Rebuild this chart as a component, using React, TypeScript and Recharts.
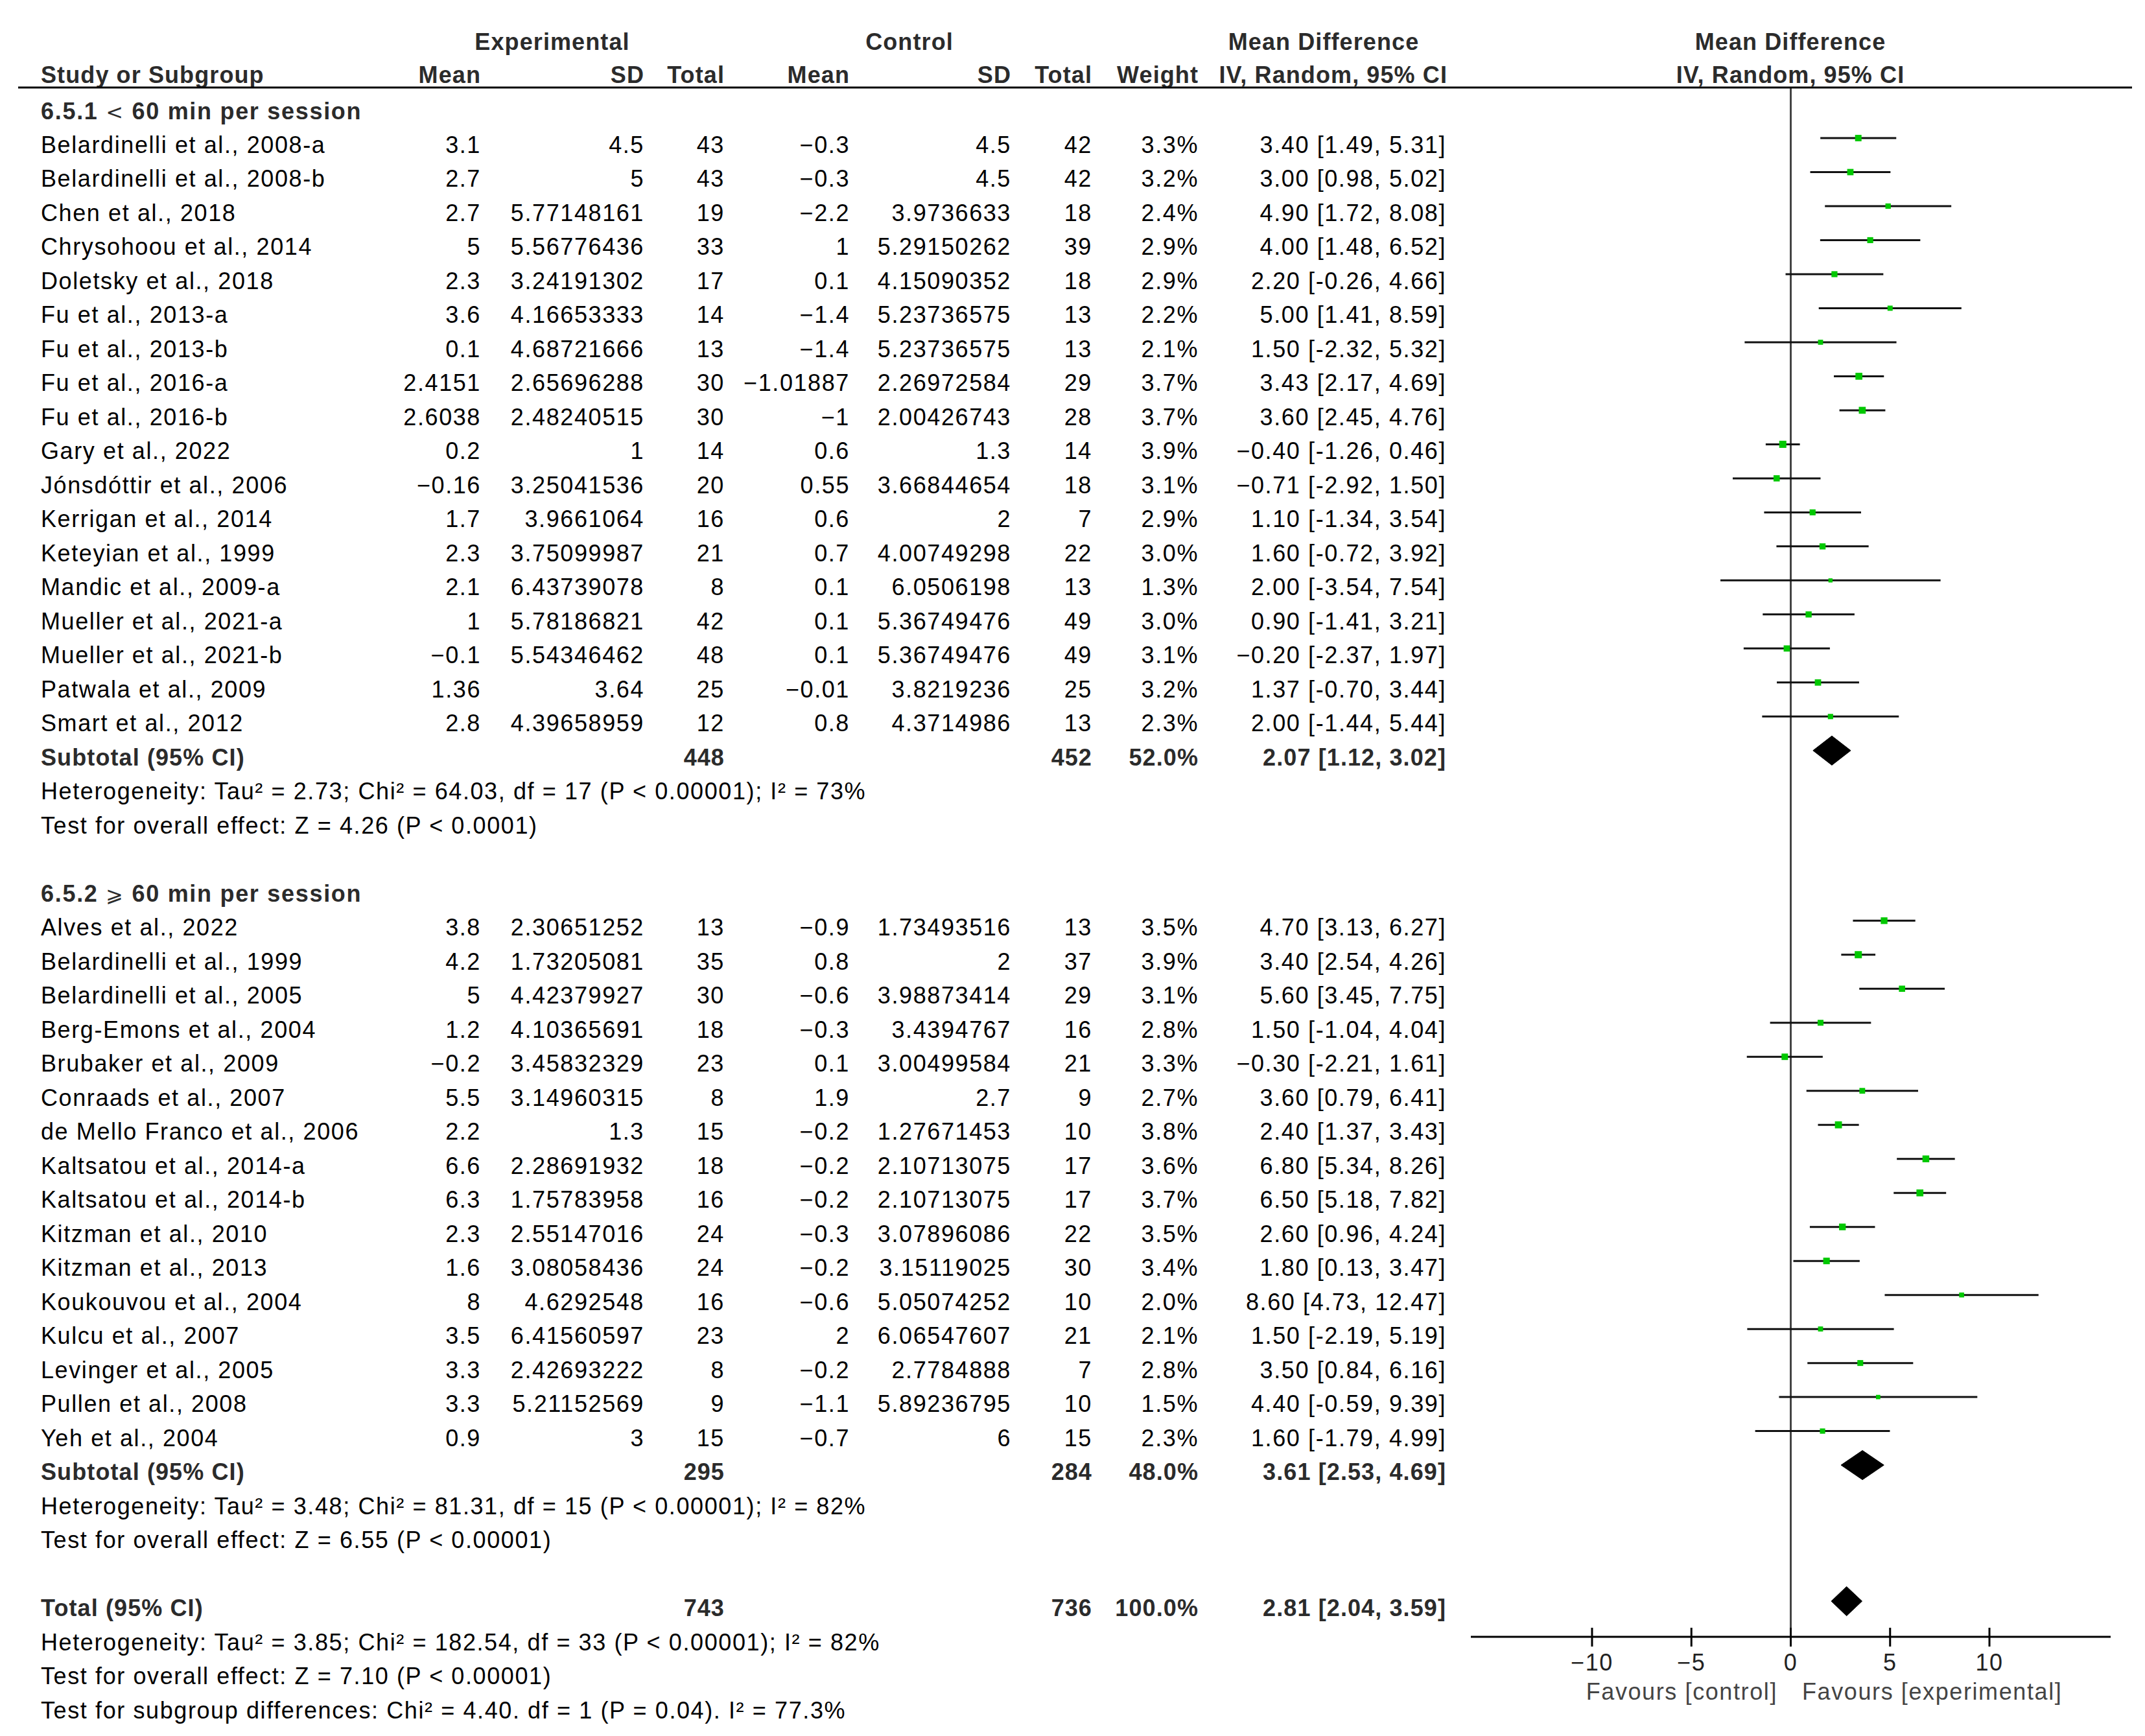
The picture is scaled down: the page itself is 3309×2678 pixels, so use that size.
import React from 'react';
import { ComposedChart, Scatter, XAxis, YAxis, ErrorBar, ReferenceLine } from 'recharts';

// ---------------- data ----------------
const names1 = [
  'Belardinelli et al., 2008-a', 'Belardinelli et al., 2008-b', 'Chen et al., 2018', 'Chrysohoou et al., 2014',
  'Doletsky et al., 2018', 'Fu et al., 2013-a', 'Fu et al., 2013-b', 'Fu et al., 2016-a', 'Fu et al., 2016-b',
  'Gary et al., 2022', 'Jónsdóttir et al., 2006', 'Kerrigan et al., 2014', 'Keteyian et al., 1999',
  'Mandic et al., 2009-a', 'Mueller et al., 2021-a', 'Mueller et al., 2021-b', 'Patwala et al., 2009', 'Smart et al., 2012',
];
const expMean1 = [3.1, 2.7, 2.7, 5, 2.3, 3.6, 0.1, 2.4151, 2.6038, 0.2, -0.16, 1.7, 2.3, 2.1, 1, -0.1, 1.36, 2.8];
const expSD1 = [4.5, 5, 5.77148161, 5.56776436, 3.24191302, 4.16653333, 4.68721666, 2.65696288, 2.48240515, 1, 3.25041536, 3.9661064, 3.75099987, 6.43739078, 5.78186821, 5.54346462, 3.64, 4.39658959];
const expN1 = [43, 43, 19, 33, 17, 14, 13, 30, 30, 14, 20, 16, 21, 8, 42, 48, 25, 12];
const ctrlMean1 = [-0.3, -0.3, -2.2, 1, 0.1, -1.4, -1.4, -1.01887, -1, 0.6, 0.55, 0.6, 0.7, 0.1, 0.1, 0.1, -0.01, 0.8];
const ctrlSD1 = [4.5, 4.5, 3.9736633, 5.29150262, 4.15090352, 5.23736575, 5.23736575, 2.26972584, 2.00426743, 1.3, 3.66844654, 2, 4.00749298, 6.0506198, 5.36749476, 5.36749476, 3.8219236, 4.3714986];
const ctrlN1 = [42, 42, 18, 39, 18, 13, 13, 29, 28, 14, 18, 7, 22, 13, 49, 49, 25, 13];
const weight1 = [3.3, 3.2, 2.4, 2.9, 2.9, 2.2, 2.1, 3.7, 3.7, 3.9, 3.1, 2.9, 3.0, 1.3, 3.0, 3.1, 3.2, 2.3];
const md1 = [3.40, 3.00, 4.90, 4.00, 2.20, 5.00, 1.50, 3.43, 3.60, -0.40, -0.71, 1.10, 1.60, 2.00, 0.90, -0.20, 1.37, 2.00];
const lo1 = [1.49, 0.98, 1.72, 1.48, -0.26, 1.41, -2.32, 2.17, 2.45, -1.26, -2.92, -1.34, -0.72, -3.54, -1.41, -2.37, -0.70, -1.44];
const hi1 = [5.31, 5.02, 8.08, 6.52, 4.66, 8.59, 5.32, 4.69, 4.76, 0.46, 1.50, 3.54, 3.92, 7.54, 3.21, 1.97, 3.44, 5.44];

const names2 = [
  'Alves et al., 2022', 'Belardinelli et al., 1999', 'Belardinelli et al., 2005', 'Berg-Emons et al., 2004',
  'Brubaker et al., 2009', 'Conraads et al., 2007', 'de Mello Franco et al., 2006', 'Kaltsatou et al., 2014-a',
  'Kaltsatou et al., 2014-b', 'Kitzman et al., 2010', 'Kitzman et al., 2013', 'Koukouvou et al., 2004',
  'Kulcu et al., 2007', 'Levinger et al., 2005', 'Pullen et al., 2008', 'Yeh et al., 2004',
];
const expMean2 = [3.8, 4.2, 5, 1.2, -0.2, 5.5, 2.2, 6.6, 6.3, 2.3, 1.6, 8, 3.5, 3.3, 3.3, 0.9];
const expSD2 = [2.30651252, 1.73205081, 4.42379927, 4.10365691, 3.45832329, 3.14960315, 1.3, 2.28691932, 1.75783958, 2.55147016, 3.08058436, 4.6292548, 6.41560597, 2.42693222, 5.21152569, 3];
const expN2 = [13, 35, 30, 18, 23, 8, 15, 18, 16, 24, 24, 16, 23, 8, 9, 15];
const ctrlMean2 = [-0.9, 0.8, -0.6, -0.3, 0.1, 1.9, -0.2, -0.2, -0.2, -0.3, -0.2, -0.6, 2, -0.2, -1.1, -0.7];
const ctrlSD2 = [1.73493516, 2, 3.98873414, 3.4394767, 3.00499584, 2.7, 1.27671453, 2.10713075, 2.10713075, 3.07896086, 3.15119025, 5.05074252, 6.06547607, 2.7784888, 5.89236795, 6];
const ctrlN2 = [13, 37, 29, 16, 21, 9, 10, 17, 17, 22, 30, 10, 21, 7, 10, 15];
const weight2 = [3.5, 3.9, 3.1, 2.8, 3.3, 2.7, 3.8, 3.6, 3.7, 3.5, 3.4, 2.0, 2.1, 2.8, 1.5, 2.3];
const md2 = [4.70, 3.40, 5.60, 1.50, -0.30, 3.60, 2.40, 6.80, 6.50, 2.60, 1.80, 8.60, 1.50, 3.50, 4.40, 1.60];
const lo2 = [3.13, 2.54, 3.45, -1.04, -2.21, 0.79, 1.37, 5.34, 5.18, 0.96, 0.13, 4.73, -2.19, 0.84, -0.59, -1.79];
const hi2 = [6.27, 4.26, 7.75, 4.04, 1.61, 6.41, 3.43, 8.26, 7.82, 4.24, 3.47, 12.47, 5.19, 6.16, 9.39, 4.99];

const subLabels = ['Subtotal (95% CI)', 'Subtotal (95% CI)', 'Total (95% CI)'];
const subEst = [2.07, 3.61, 2.81];
const subLo = [1.12, 2.53, 2.04];
const subHi = [3.02, 4.69, 3.59];
const subExpN = [448, 295, 743];
const subCtrlN = [452, 284, 736];
const subWeight = [52.0, 48.0, 100.0];

const groupTitles = ['6.5.1 ', '6.5.2 '];
const groupSymbols = ['<', '⩾'];
const groupRest = [' 60 min per session', ' 60 min per session'];

const hetTexts = [
  'Heterogeneity: Tau² = 2.73; Chi² = 64.03, df = 17 (P < 0.00001); I² = 73%',
  'Heterogeneity: Tau² = 3.48; Chi² = 81.31, df = 15 (P < 0.00001); I² = 82%',
  'Heterogeneity: Tau² = 3.85; Chi² = 182.54, df = 33 (P < 0.00001); I² = 82%',
];
const testTexts = [
  'Test for overall effect: Z = 4.26 (P < 0.0001)',
  'Test for overall effect: Z = 6.55 (P < 0.00001)',
  'Test for overall effect: Z = 7.10 (P < 0.00001)',
];
const subgroupDiffText = 'Test for subgroup differences: Chi² = 4.40. df = 1 (P = 0.04). I² = 77.3%';

const xTicks = [-10, -5, 0, 5, 10];
const favoursLeft = 'Favours [control]';
const favoursRight = 'Favours [experimental]';

// ---------------- layout ----------------
const W = 3309;
const H = 2678;
const FONT = '"Liberation Sans", Arial, Helvetica, sans-serif';
const FS = 36;
const LS_NORMAL = 1.6;
const LS_BOLD = 1.1;
const ROW0 = 160.5;
const ROWH = 52.49;
const BASE_OFF = 23;
const PLOT_TOP = 135;
const PLOT_BOTTOM = 2525;
const PLOT_LEFT = 2269;
const PLOT_RIGHT = 3256;
const Y_DOMAIN: [number, number] = [(PLOT_TOP - ROW0) / ROWH, (PLOT_BOTTOM - ROW0) / ROWH];
const X_DOMAIN: [number, number] = [-16.1, 16.1];
const baseY = (i: number) => ROW0 + ROWH * i + BASE_OFF;

const COL = {
  name: 63, expMean: 742, expSD: 994, expN: 1118, ctrlMean: 1311, ctrlSD: 1560, ctrlN: 1685, weight: 1849, ci: 2231,
};

// row indices
const G_HEADER = [0, 23];
const G_START = [1, 24];
const SUB_ROW = [19, 40, 44];
const HET_ROW = [20, 41, 45];
const TEST_ROW = [21, 42, 46];
const DIFF_ROW = 47;
const DIAMOND_HALF = 0.43;

const num = (v: number) => (v < 0 ? '−' + String(-v) : String(v));
const est = (v: number) => (v < 0 ? '−' + (-v).toFixed(2) : v.toFixed(2));
const ci = (m: number, l: number, h: number) => `${est(m)} [${l.toFixed(2)}, ${h.toFixed(2)}]`;

const groups = [
  { names: names1, em: expMean1, es: expSD1, en: expN1, cm: ctrlMean1, cs: ctrlSD1, cn: ctrlN1, w: weight1, md: md1, lo: lo1, hi: hi1 },
  { names: names2, em: expMean2, es: expSD2, en: expN2, cm: ctrlMean2, cs: ctrlSD2, cn: ctrlN2, w: weight2, md: md2, lo: lo2, hi: hi2 },
];

const studyPoints = groups.flatMap((g, gi) =>
  g.md.map((m, k) => ({ x: m, y: G_START[gi] + k, err: [m - g.lo[k], g.hi[k] - m], w: g.w[k] }))
);

const diamondData = subEst.map((e, k) => [
  { x: subLo[k], y: SUB_ROW[k] },
  { x: e, y: SUB_ROW[k] - DIAMOND_HALF },
  { x: subHi[k], y: SUB_ROW[k] },
  { x: e, y: SUB_ROW[k] + DIAMOND_HALF },
  { x: subLo[k], y: SUB_ROW[k] },
]);

// ---------------- components ----------------
const SquareShape = (props: any) => {
  const { cx, cy, payload } = props;
  if (cx == null || cy == null) return <g />;
  const s = 4 + 1.8 * payload.w;
  return <rect x={cx - s / 2} y={cy - s / 2} width={s} height={s} fill="#00c800" />;
};
const NoShape = () => <g />;

const AxisTick = (props: any) => {
  const { x, y, payload } = props;
  const v = payload.value as number;
  return (
    <g>
      <line x1={x} x2={x} y1={y - 14} y2={y + 15} stroke="#000" strokeWidth={3} />
      <text x={x} y={y + 52} textAnchor="middle" fontFamily={FONT} fontSize={FS} fill="#222" letterSpacing={LS_NORMAL}>
        {v < 0 ? '−' + String(-v) : String(v)}
      </text>
    </g>
  );
};

const T = ({ x, y, anchor = 'end', bold = false, fill, children }: any) => (
  <text
    x={x}
    y={y}
    textAnchor={anchor}
    fontFamily={FONT}
    fontSize={FS}
    fontWeight={bold ? 'bold' : 'normal'}
    letterSpacing={bold ? LS_BOLD : LS_NORMAL}
    fill={fill || (bold ? '#2b2b2b' : '#000')}
  >
    {children}
  </text>
);

const Table = () => {
  const h1 = 77;
  const h2 = 128;
  return (
    <svg width={W} height={H} style={{ position: 'absolute', left: 0, top: 0, pointerEvents: 'none' }}>
      {/* headers */}
      <T x={852} y={h1} anchor="middle" bold>Experimental</T>
      <T x={1403} y={h1} anchor="middle" bold>Control</T>
      <T x={2042} y={h1} anchor="middle" bold>Mean Difference</T>
      <T x={2762} y={h1} anchor="middle" bold>Mean Difference</T>
      <T x={COL.name} y={h2} anchor="start" bold>Study or Subgroup</T>
      <T x={COL.expMean} y={h2} bold>Mean</T>
      <T x={COL.expSD} y={h2} bold>SD</T>
      <T x={COL.expN} y={h2} bold>Total</T>
      <T x={COL.ctrlMean} y={h2} bold>Mean</T>
      <T x={COL.ctrlSD} y={h2} bold>SD</T>
      <T x={COL.ctrlN} y={h2} bold>Total</T>
      <T x={COL.weight} y={h2} bold>Weight</T>
      <T x={COL.ci + 2} y={h2} bold>IV, Random, 95% CI</T>
      <T x={2762} y={h2} anchor="middle" bold>IV, Random, 95% CI</T>
      <line x1={28} x2={3289} y1={PLOT_TOP} y2={PLOT_TOP} stroke="#000" strokeWidth={3} />

      {groups.map((g, gi) => (
        <g key={'g' + gi}>
          <text x={COL.name} y={baseY(G_HEADER[gi])} fontFamily={FONT} fontSize={FS} fontWeight="bold" fill="#2b2b2b" letterSpacing={LS_BOLD + 0.6}>
            {groupTitles[gi]}
            <tspan fontWeight="normal" fontFamily='"DejaVu Sans", sans-serif' fontSize={FS - 4}>{groupSymbols[gi]}</tspan>
            {groupRest[gi]}
          </text>
          {g.names.map((n, k) => {
            const y = baseY(G_START[gi] + k);
            return (
              <g key={'r' + gi + '-' + k}>
                <T x={COL.name} y={y} anchor="start">{n}</T>
                <T x={COL.expMean} y={y}>{num(g.em[k])}</T>
                <T x={COL.expSD} y={y}>{num(g.es[k])}</T>
                <T x={COL.expN} y={y}>{g.en[k]}</T>
                <T x={COL.ctrlMean} y={y}>{num(g.cm[k])}</T>
                <T x={COL.ctrlSD} y={y}>{num(g.cs[k])}</T>
                <T x={COL.ctrlN} y={y}>{g.cn[k]}</T>
                <T x={COL.weight} y={y}>{g.w[k].toFixed(1) + '%'}</T>
                <T x={COL.ci} y={y}>{ci(g.md[k], g.lo[k], g.hi[k])}</T>
              </g>
            );
          })}
        </g>
      ))}

      {subEst.map((e, k) => {
        const y = baseY(SUB_ROW[k]);
        return (
          <g key={'s' + k}>
            <T x={COL.name} y={y} anchor="start" bold>{subLabels[k]}</T>
            <T x={COL.expN} y={y} bold>{subExpN[k]}</T>
            <T x={COL.ctrlN} y={y} bold>{subCtrlN[k]}</T>
            <T x={COL.weight} y={y} bold>{subWeight[k].toFixed(1) + '%'}</T>
            <T x={COL.ci} y={y} bold>{ci(e, subLo[k], subHi[k])}</T>
            <T x={COL.name} y={baseY(HET_ROW[k])} anchor="start">{hetTexts[k]}</T>
            <T x={COL.name} y={baseY(TEST_ROW[k])} anchor="start">{testTexts[k]}</T>
          </g>
        );
      })}
      <T x={COL.name} y={baseY(DIFF_ROW)} anchor="start">{subgroupDiffText}</T>

      <T x={2742} y={2622} anchor="end" fill="#444">{favoursLeft}</T>
      <T x={2780} y={2622} anchor="start" fill="#444">{favoursRight}</T>
    </svg>
  );
};

export default function App() {
  return (
    <div style={{ position: 'absolute', left: 0, top: 0, width: W, height: H, background: '#fff' }}>
      <ComposedChart
        width={W}
        height={H}
        margin={{ top: PLOT_TOP, bottom: H - PLOT_BOTTOM - 100, left: PLOT_LEFT, right: W - PLOT_RIGHT }}
      >
        <XAxis
          type="number"
          dataKey="x"
          domain={X_DOMAIN}
          ticks={xTicks}
          interval={0}
          allowDataOverflow
          height={100}
          tickLine={false}
          tickSize={0}
          tickMargin={0}
          axisLine={{ stroke: '#000', strokeWidth: 3 }}
          tick={<AxisTick />}
        />
        <YAxis type="number" dataKey="y" domain={Y_DOMAIN} reversed hide width={0} allowDataOverflow />
        <ReferenceLine x={0} stroke="#444" strokeWidth={3} />
        <Scatter data={studyPoints} dataKey="y" shape={<SquareShape />} isAnimationActive={false}>
          <ErrorBar dataKey="err" direction="x" width={0} stroke="#111" strokeWidth={3} />
        </Scatter>
        {diamondData.map((d, k) => (
          <Scatter
            key={'d' + k}
            data={d}
            dataKey="y"
            shape={<NoShape />}
            line={{ fill: '#000', stroke: '#000', strokeWidth: 1 }}
            lineType="joint"
            isAnimationActive={false}
          />
        ))}
      </ComposedChart>
      <Table />
    </div>
  );
}
